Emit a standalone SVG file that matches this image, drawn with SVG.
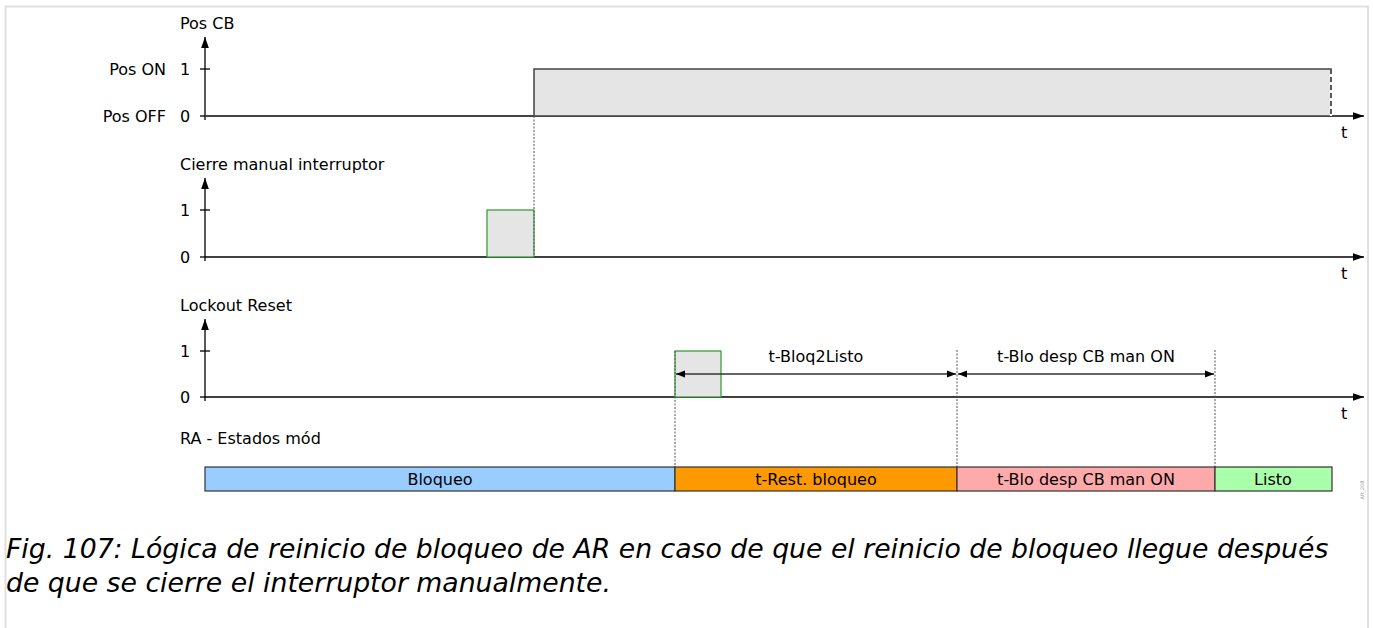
<svg xmlns="http://www.w3.org/2000/svg" width="1373" height="628" viewBox="0 0 1373 628">
<defs>
<marker id="ah" viewBox="0 0 10 10" refX="10" refY="5" markerWidth="11" markerHeight="11" markerUnits="userSpaceOnUse" orient="auto-start-reverse">
<path d="M0,1.5 L10,5 L0,8.5 z" fill="#000"/>
</marker>
<marker id="dm" viewBox="0 0 10 10" refX="10" refY="5" markerWidth="9" markerHeight="9" markerUnits="userSpaceOnUse" orient="auto-start-reverse">
<path d="M0,1 L10,5 L0,9 z" fill="#000"/>
</marker>
<style>
text{font-family:"DejaVu Sans","Liberation Sans",sans-serif;font-size:16px;fill:#000}
.r{text-anchor:end}
.m{text-anchor:middle}
.ax{stroke:#000;stroke-width:1.3;fill:none}
.tl{stroke:#444;stroke-width:2;fill:none}
.sig{fill:#e5e5e5;stroke:#444;stroke-width:1.5}
.pul{fill:#e5e5e5;stroke:#2a9a2a;stroke-width:1.2}
.vd{stroke:#555;stroke-width:1;stroke-dasharray:2,1.5;fill:none}
.dim{stroke:#333;stroke-width:1.5;fill:none}
.bar{stroke:#333;stroke-width:1.2}
.cap{font-style:italic;font-size:26.7px}
</style>
</defs>
<rect width="1373" height="628" fill="#fff"/>
<path d="M5.5,628 V6.5 H1368 V628" fill="none" stroke="#e0e0e0" stroke-width="2"/>

<g id="panel-poscb">
<text x="180" y="29">Pos CB</text>
<text class="r" x="166" y="75">Pos ON</text>
<text x="180" y="75">1</text>
<text class="r" x="166" y="122">Pos OFF</text>
<text x="180" y="122">0</text>
<line class="ax" x1="205" y1="120" x2="205" y2="37" marker-end="url(#ah)"/>
<line class="ax" x1="200" y1="69" x2="210" y2="69"/>
<line class="ax" x1="200" y1="116" x2="205" y2="116"/>
<line class="tl" x1="205" y1="116" x2="1364" y2="116" marker-end="url(#ah)"/>
<path class="sig" d="M534,116 V69 H1331 V116 Z"/>
<line x1="1331" y1="69" x2="1331" y2="116" stroke="#fff" stroke-width="2"/>
<line x1="1331" y1="69" x2="1331" y2="116" stroke="#000" stroke-width="1.3" stroke-dasharray="5,3"/>
<text x="1341" y="138">t</text>
</g>

<g id="panel-cierre">
<text x="180" y="170">Cierre manual interruptor</text>
<text x="180" y="216">1</text>
<text x="180" y="263">0</text>
<line class="ax" x1="205" y1="261" x2="205" y2="178" marker-end="url(#ah)"/>
<line class="ax" x1="200" y1="210" x2="210" y2="210"/>
<line class="ax" x1="200" y1="257" x2="205" y2="257"/>
<line class="ax" x1="205" y1="257" x2="1364" y2="257" marker-end="url(#ah)"/>
<rect class="pul" x="487" y="210" width="47" height="47"/>
<text x="1341" y="279">t</text>
</g>

<g id="panel-lockout">
<text x="180" y="311">Lockout Reset</text>
<text x="180" y="357">1</text>
<text x="180" y="403">0</text>
<line class="ax" x1="205" y1="401" x2="205" y2="319" marker-end="url(#ah)"/>
<line class="ax" x1="200" y1="351" x2="210" y2="351"/>
<line class="ax" x1="200" y1="397" x2="205" y2="397"/>
<line class="ax" x1="205" y1="397" x2="1364" y2="397" marker-end="url(#ah)"/>
<rect class="pul" x="675" y="351" width="46" height="46"/>
<text x="1341" y="419">t</text>
</g>

<g id="connectors">
<line class="vd" x1="534" y1="116" x2="534" y2="257"/>
<line class="vd" x1="675" y1="351" x2="675" y2="467"/>
<line class="vd" x1="957" y1="350" x2="957" y2="467"/>
<line class="vd" x1="1215" y1="350" x2="1215" y2="467"/>
<line class="dim" x1="676" y1="374" x2="956" y2="374" marker-start="url(#dm)" marker-end="url(#dm)"/>
<line class="dim" x1="958" y1="374" x2="1214" y2="374" marker-start="url(#dm)" marker-end="url(#dm)"/>
<text class="m" x="816" y="362">t-Bloq2Listo</text>
<text class="m" x="1086" y="362">t-Blo desp CB man ON</text>
</g>

<g id="states">
<text x="180" y="444">RA - Estados mód</text>
<g id="st-bloqueo"><rect class="bar" x="205" y="467" width="470" height="24" fill="#99ccff"/><text class="m" x="440" y="484.5">Bloqueo</text></g>
<g id="st-rest"><rect class="bar" x="675" y="467" width="282" height="24" fill="#ff9900"/><text class="m" x="816" y="484.5">t-Rest. bloqueo</text></g>
<g id="st-blo"><rect class="bar" x="957" y="467" width="258" height="24" fill="#ffaaaa"/><text class="m" x="1086" y="484.5">t-Blo desp CB man ON</text></g>
<g id="st-listo"><rect class="bar" x="1215" y="467" width="117" height="24" fill="#aaffaa"/><text class="m" x="1273" y="484.5">Listo</text></g>
</g>

<text x="1364" y="490" transform="rotate(-90 1364 490)" text-anchor="middle" style="font-size:5px;fill:#999">AR_208</text>

<g id="caption">
<text class="cap" x="6" y="558">Fig. 107: Lógica de reinicio de bloqueo de AR en caso de que el reinicio de bloqueo llegue después</text>
<text class="cap" x="6" y="592">de que se cierre el interruptor manualmente.</text>
</g>
</svg>
